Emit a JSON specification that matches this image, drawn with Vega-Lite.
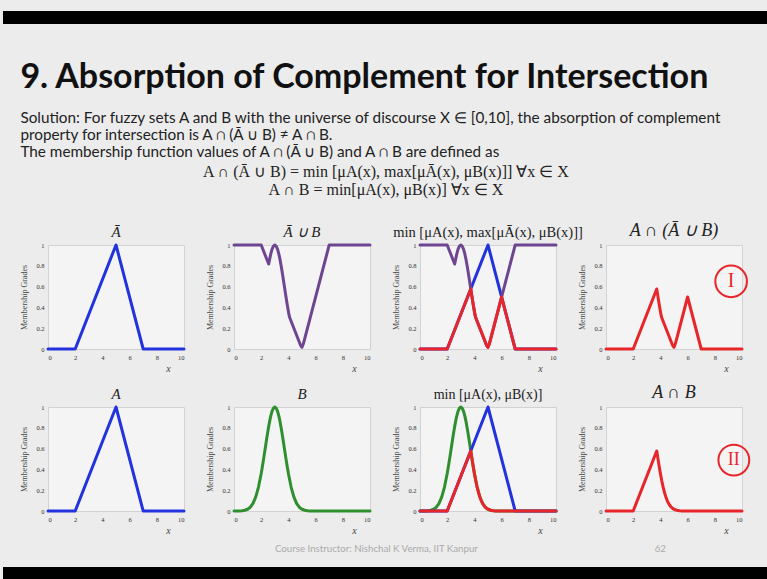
{
  "$schema": "https://vega.github.io/schema/vega-lite/v6.json",
  "padding": {"top": 11, "left": 0, "right": 0, "bottom": 0},
  "background": "#ececec",
  "spacing": 37,
  "config": {
    "view": {"fill": "#f4f4f4", "stroke": "#d2d2d2"},
    "axis": {"grid": false, "domain": false, "ticks": false, "labelFont": "Liberation Serif", "labelFontSize": 6.5, "labelColor": "#333", "titleFont": "Liberation Serif", "titleFontWeight": "normal", "titleColor": "#444"},
    "axisX": {"titleFontStyle": "italic", "titleFontSize": 10, "titleX": 120, "titlePadding": 3, "labelPadding": 5},
    "axisY": {"titleFontSize": 8, "titlePadding": 7, "labelPadding": 4},
    "title": {"font": "Liberation Serif", "fontSize": 15, "fontStyle": "italic", "fontWeight": "normal", "color": "#222", "offset": 2},
    "line": {"strokeWidth": 3, "strokeCap": "round", "strokeJoin": "round", "clip": false}
  },
  "datasets": {
    "A": [{"x": 0, "mu": 0}, {"x": 2, "mu": 0}, {"x": 5, "mu": 1}, {"x": 7, "mu": 0}, {"x": 10, "mu": 0}],
    "Abar_shown": [{"x": 0, "mu": 0}, {"x": 2, "mu": 0}, {"x": 5, "mu": 1}, {"x": 7, "mu": 0}, {"x": 10, "mu": 0}],
    "B": [{"x": 0, "mu": 0.0001}, {"x": 0.2, "mu": 0.0003}, {"x": 0.4, "mu": 0.001}, {"x": 0.6, "mu": 0.0028}, {"x": 0.8, "mu": 0.0072}, {"x": 1.0, "mu": 0.0169}, {"x": 1.2, "mu": 0.0367}, {"x": 1.4, "mu": 0.0734}, {"x": 1.6, "mu": 0.1353}, {"x": 1.8, "mu": 0.2301}, {"x": 2.0, "mu": 0.3604}, {"x": 2.1, "mu": 0.4376}, {"x": 2.2, "mu": 0.5205}, {"x": 2.3, "mu": 0.6065}, {"x": 2.4, "mu": 0.6926}, {"x": 2.5, "mu": 0.775}, {"x": 2.6, "mu": 0.8494}, {"x": 2.7, "mu": 0.912}, {"x": 2.8, "mu": 0.96}, {"x": 2.9, "mu": 0.9898}, {"x": 3.0, "mu": 1}, {"x": 3.1, "mu": 0.9898}, {"x": 3.2, "mu": 0.96}, {"x": 3.3, "mu": 0.912}, {"x": 3.4, "mu": 0.8494}, {"x": 3.5, "mu": 0.775}, {"x": 3.6, "mu": 0.6926}, {"x": 3.7, "mu": 0.6065}, {"x": 3.8, "mu": 0.5205}, {"x": 3.9, "mu": 0.4376}, {"x": 4.0, "mu": 0.3604}, {"x": 4.2, "mu": 0.2301}, {"x": 4.4, "mu": 0.1353}, {"x": 4.6, "mu": 0.0734}, {"x": 4.8, "mu": 0.0367}, {"x": 5.0, "mu": 0.0169}, {"x": 5.2, "mu": 0.0072}, {"x": 5.4, "mu": 0.0028}, {"x": 5.6, "mu": 0.001}, {"x": 5.8, "mu": 0.0003}, {"x": 6.0, "mu": 0.0001}, {"x": 10, "mu": 0}],
    "AbarUB": [{"x": 0, "mu": 1}, {"x": 2, "mu": 1}, {"x": 2.55, "mu": 0.817}, {"x": 2.6, "mu": 0.8494}, {"x": 2.7, "mu": 0.912}, {"x": 2.8, "mu": 0.96}, {"x": 2.9, "mu": 0.9898}, {"x": 3.0, "mu": 1}, {"x": 3.1, "mu": 0.9898}, {"x": 3.2, "mu": 0.96}, {"x": 3.3, "mu": 0.912}, {"x": 3.4, "mu": 0.8494}, {"x": 3.5, "mu": 0.775}, {"x": 3.6, "mu": 0.6926}, {"x": 3.7, "mu": 0.6065}, {"x": 3.8, "mu": 0.5205}, {"x": 3.9, "mu": 0.4376}, {"x": 4.0, "mu": 0.3604}, {"x": 4.05, "mu": 0.325}, {"x": 4.1, "mu": 0.3}, {"x": 4.9, "mu": 0.033}, {"x": 5.0, "mu": 0.017}, {"x": 5.1, "mu": 0.05}, {"x": 7, "mu": 1}, {"x": 10, "mu": 1}],
    "R1": [{"x": 0, "mu": 0}, {"x": 2, "mu": 0}, {"x": 3.73, "mu": 0.577}, {"x": 3.76, "mu": 0.555}, {"x": 3.8, "mu": 0.5205}, {"x": 3.9, "mu": 0.4376}, {"x": 4.0, "mu": 0.3604}, {"x": 4.05, "mu": 0.325}, {"x": 4.1, "mu": 0.3}, {"x": 4.9, "mu": 0.033}, {"x": 5.0, "mu": 0.017}, {"x": 5.1, "mu": 0.05}, {"x": 6.0, "mu": 0.5}, {"x": 7, "mu": 0}, {"x": 10, "mu": 0}],
    "R2": [{"x": 0, "mu": 0}, {"x": 2, "mu": 0}, {"x": 3.73, "mu": 0.577}, {"x": 3.76, "mu": 0.555}, {"x": 3.8, "mu": 0.5205}, {"x": 3.9, "mu": 0.4376}, {"x": 4.0, "mu": 0.3604}, {"x": 4.1, "mu": 0.291}, {"x": 4.2, "mu": 0.2301}, {"x": 4.3, "mu": 0.178}, {"x": 4.4, "mu": 0.1353}, {"x": 4.5, "mu": 0.1007}, {"x": 4.6, "mu": 0.0734}, {"x": 4.7, "mu": 0.0524}, {"x": 4.8, "mu": 0.0367}, {"x": 4.9, "mu": 0.025}, {"x": 5.0, "mu": 0.0169}, {"x": 5.2, "mu": 0.0072}, {"x": 5.4, "mu": 0.0028}, {"x": 5.6, "mu": 0.001}, {"x": 6.0, "mu": 0}, {"x": 10, "mu": 0}]
  },
  "vconcat": [
    {"width": 767, "height": 13, "data": {"values": [{}]}, "mark": {"type": "rect", "color": "#000"}, "encoding": {}, "view": {"stroke": null, "fill": null}},
    {
      "spacing": 8,
      "vconcat": [
        {
          "spacing": 13,
          "hconcat": [
            {"width": 1, "height": 1, "data": {"values": [{}]}, "mark": {"type": "point", "opacity": 0}, "encoding": {}, "view": {"stroke": null, "fill": null}},
            {
              "title": {
                "text": "9. Absorption of Complement for Intersection",
                "subtitle": ["Solution: For fuzzy sets A and B with the universe of discourse X ∈ [0,10], the absorption of complement", "property for intersection is A ∩ (Ā ∪ B) ≠ A ∩ B.", "The membership function values of A ∩ (Ā ∪ B) and A ∩ B are defined as"],
                "anchor": "start", "font": "Lato", "fontSize": 34, "fontWeight": "bold", "fontStyle": "normal", "color": "#111",
                "subtitleFont": "Lato", "subtitleFontSize": 15.3, "subtitleFontStyle": "normal", "subtitleColor": "#222", "subtitlePadding": 16, "subtitleLineHeight": 17, "offset": 3
              },
              "spacing": 9,
              "vconcat": [
                {
                  "title": {"text": ["A ∩ (Ā ∪ B) = min [μA(x), max[μĀ(x), μB(x)]] ∀x ∈ X", "A ∩ B = min[μA(x), μB(x)] ∀x ∈ X"], "anchor": "middle", "font": "Liberation Serif", "fontSize": 16, "fontStyle": "normal", "lineHeight": 18, "offset": 24, "color": "#222"},
                  "bounds": "flush",
                  "spacing": 50,
                  "hconcat": [
                    {"width": 136, "height": 104, "title": "Ā", "data": {"name": "Abar_shown"}, "mark": {"type": "line", "color": "#2233dd"},
                     "encoding": {"x": {"field": "x", "type": "quantitative", "scale": {"domain": [0, 10]}, "axis": {"values": [0, 2, 4, 6, 8, 10], "title": "x"}},
                                  "y": {"field": "mu", "type": "quantitative", "scale": {"domain": [0, 1]}, "axis": {"values": [0, 0.2, 0.4, 0.6, 0.8, 1], "format": "~g", "title": "Membership Grades"}}}},
                    {"width": 136, "height": 104, "title": "Ā ∪ B", "data": {"name": "AbarUB"}, "mark": {"type": "line", "color": "#6e4590"},
                     "encoding": {"x": {"field": "x", "type": "quantitative", "scale": {"domain": [0, 10]}, "axis": {"values": [0, 2, 4, 6, 8, 10], "title": "x"}},
                                  "y": {"field": "mu", "type": "quantitative", "scale": {"domain": [0, 1]}, "axis": {"values": [0, 0.2, 0.4, 0.6, 0.8, 1], "format": "~g", "title": "Membership Grades"}}}},
                    {"width": 136, "height": 104, "title": {"text": "min [μA(x), max[μĀ(x), μB(x)]]", "fontStyle": "normal", "fontSize": 14.5},
                     "encoding": {"x": {"field": "x", "type": "quantitative", "scale": {"domain": [0, 10]}, "axis": {"values": [0, 2, 4, 6, 8, 10], "title": "x"}},
                                  "y": {"field": "mu", "type": "quantitative", "scale": {"domain": [0, 1]}, "axis": {"values": [0, 0.2, 0.4, 0.6, 0.8, 1], "format": "~g", "title": "Membership Grades"}}},
                     "layer": [
                       {"data": {"name": "A"}, "mark": {"type": "line", "color": "#2233dd"}},
                       {"data": {"name": "AbarUB"}, "mark": {"type": "line", "color": "#6e4590"}},
                       {"data": {"name": "R1"}, "mark": {"type": "line", "color": "#e8262a"}}
                     ]},
                    {"width": 136, "height": 104, "title": {"text": "A ∩ (Ā ∪ B)", "fontSize": 18},
                     "layer": [
                       {"data": {"name": "R1"}, "mark": {"type": "line", "color": "#e8262a"},
                        "encoding": {"x": {"field": "x", "type": "quantitative", "scale": {"domain": [0, 10]}, "axis": {"values": [0, 2, 4, 6, 8, 10], "title": "x"}},
                                     "y": {"field": "mu", "type": "quantitative", "scale": {"domain": [0, 1]}, "axis": {"values": [0, 0.2, 0.4, 0.6, 0.8, 1], "format": "~g", "title": "Membership Grades"}}}},
                       {"data": {"values": [{}]}, "mark": {"type": "point", "shape": "circle", "size": 1000, "filled": false, "stroke": "#e8262a", "strokeWidth": 2, "opacity": 1, "clip": false},
                        "encoding": {"x": {"datum": 9.2, "type": "quantitative", "scale": {"domain": [0, 10]}, "axis": {"values": [0, 2, 4, 6, 8, 10], "title": "x"}},
                                     "y": {"datum": 0.65, "type": "quantitative", "scale": {"domain": [0, 1]}, "axis": {"values": [0, 0.2, 0.4, 0.6, 0.8, 1], "format": "~g", "title": "Membership Grades"}}}},
                       {"data": {"values": [{}]}, "mark": {"type": "text", "text": "I", "font": "Liberation Serif", "fontSize": 20, "color": "#e8262a", "baseline": "middle", "align": "center", "clip": false},
                        "encoding": {"x": {"datum": 9.2, "type": "quantitative", "scale": {"domain": [0, 10]}, "axis": {"values": [0, 2, 4, 6, 8, 10], "title": "x"}},
                                     "y": {"datum": 0.65, "type": "quantitative", "scale": {"domain": [0, 1]}, "axis": {"values": [0, 0.2, 0.4, 0.6, 0.8, 1], "format": "~g", "title": "Membership Grades"}}}}
                     ]}
                  ]
                },
                {
                  "bounds": "flush",
                  "spacing": 50,
                  "hconcat": [
                    {"width": 136, "height": 104, "title": "A", "data": {"name": "A"}, "mark": {"type": "line", "color": "#2233dd"},
                     "encoding": {"x": {"field": "x", "type": "quantitative", "scale": {"domain": [0, 10]}, "axis": {"values": [0, 2, 4, 6, 8, 10], "title": "x"}},
                                  "y": {"field": "mu", "type": "quantitative", "scale": {"domain": [0, 1]}, "axis": {"values": [0, 0.2, 0.4, 0.6, 0.8, 1], "format": "~g", "title": "Membership Grades"}}}},
                    {"width": 136, "height": 104, "title": "B", "data": {"name": "B"}, "mark": {"type": "line", "color": "#2f8f2f"},
                     "encoding": {"x": {"field": "x", "type": "quantitative", "scale": {"domain": [0, 10]}, "axis": {"values": [0, 2, 4, 6, 8, 10], "title": "x"}},
                                  "y": {"field": "mu", "type": "quantitative", "scale": {"domain": [0, 1]}, "axis": {"values": [0, 0.2, 0.4, 0.6, 0.8, 1], "format": "~g", "title": "Membership Grades"}}}},
                    {"width": 136, "height": 104, "title": {"text": "min [μA(x), μB(x)]", "fontStyle": "normal", "fontSize": 14},
                     "encoding": {"x": {"field": "x", "type": "quantitative", "scale": {"domain": [0, 10]}, "axis": {"values": [0, 2, 4, 6, 8, 10], "title": "x"}},
                                  "y": {"field": "mu", "type": "quantitative", "scale": {"domain": [0, 1]}, "axis": {"values": [0, 0.2, 0.4, 0.6, 0.8, 1], "format": "~g", "title": "Membership Grades"}}},
                     "layer": [
                       {"data": {"name": "B"}, "mark": {"type": "line", "color": "#2f8f2f"}},
                       {"data": {"name": "A"}, "mark": {"type": "line", "color": "#2233dd"}},
                       {"data": {"name": "R2"}, "mark": {"type": "line", "color": "#e8262a"}}
                     ]},
                    {"width": 136, "height": 104, "title": {"text": "A ∩ B", "fontSize": 18},
                     "layer": [
                       {"data": {"name": "R2"}, "mark": {"type": "line", "color": "#e8262a"},
                        "encoding": {"x": {"field": "x", "type": "quantitative", "scale": {"domain": [0, 10]}, "axis": {"values": [0, 2, 4, 6, 8, 10], "title": "x"}},
                                     "y": {"field": "mu", "type": "quantitative", "scale": {"domain": [0, 1]}, "axis": {"values": [0, 0.2, 0.4, 0.6, 0.8, 1], "format": "~g", "title": "Membership Grades"}}}},
                       {"data": {"values": [{}]}, "mark": {"type": "point", "shape": "circle", "size": 950, "filled": false, "stroke": "#e8262a", "strokeWidth": 2, "opacity": 1, "clip": false},
                        "encoding": {"x": {"datum": 9.4, "type": "quantitative", "scale": {"domain": [0, 10]}, "axis": {"values": [0, 2, 4, 6, 8, 10], "title": "x"}},
                                     "y": {"datum": 0.49, "type": "quantitative", "scale": {"domain": [0, 1]}, "axis": {"values": [0, 0.2, 0.4, 0.6, 0.8, 1], "format": "~g", "title": "Membership Grades"}}}},
                       {"data": {"values": [{}]}, "mark": {"type": "text", "text": "II", "font": "Liberation Serif", "fontSize": 18, "color": "#e8262a", "baseline": "middle", "align": "center", "clip": false},
                        "encoding": {"x": {"datum": 9.4, "type": "quantitative", "scale": {"domain": [0, 10]}, "axis": {"values": [0, 2, 4, 6, 8, 10], "title": "x"}},
                                     "y": {"datum": 0.49, "type": "quantitative", "scale": {"domain": [0, 1]}, "axis": {"values": [0, 0.2, 0.4, 0.6, 0.8, 1], "format": "~g", "title": "Membership Grades"}}}}
                     ]}
                  ]
                }
              ]
            }
          ]
        },
        {"width": 767, "height": 12, "data": {"values": [{}]}, "mark": {"type": "rect", "color": "#000"}, "encoding": {}, "view": {"stroke": null, "fill": null},
         "title": {"text": "Course Instructor: Nishchal K Verma, IIT Kanpur\u2003\u2003\u2003\u2003\u2003\u2003\u2003\u2003\u2003\u2003\u2003\u2003\u2003\u2003\u2003\u2003\u2003\u2003\u2003\u2003\u2003\u2003\u2003\u2003 62", "orient": "top", "anchor": "start", "dx": 272, "offset": 13, "font": "Lato", "fontSize": 9.7, "fontStyle": "normal", "fontWeight": "normal", "color": "#aaaaaa"}}
      ]
    }
  ]
}
